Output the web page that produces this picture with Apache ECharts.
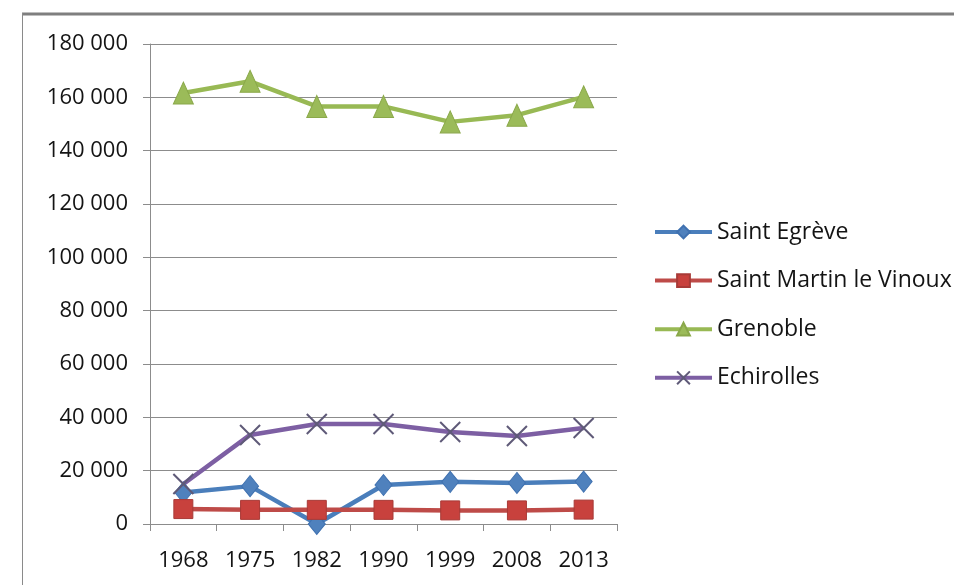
<!DOCTYPE html>
<html>
<head>
<meta charset="utf-8">
<script src="https://cdn.jsdelivr.net/npm/echarts@6/dist/echarts.min.js"></script>
<style>
  html, body { margin: 0; padding: 0; background: #fff; }
  #chart { width: 954px; height: 585px; }
</style>
</head>
<body>
<div id="chart"></div>
<script>
// Census years
const years = ['1968', '1975', '1982', '1990', '1999', '2008', '2013'];

// Population per commune
const saintEgreve = [11800, 14200, 0, 14600, 15800, 15400, 15900];
const saintMartin = [5600, 5300, 5300, 5300, 5100, 5100, 5400];
const grenoble = [161600, 166000, 156600, 156600, 150800, 153300, 160200];
const echirolles = [15000, 33400, 37500, 37500, 34500, 33000, 36000];

// Value axis ticks
const yMin = 0;
const yMax = 180000;
const yStep = 20000;

const FONT = '"Open Sans", "Liberation Sans", sans-serif';
const AXIS_GRAY = '#8c8c8c';
const TEXT = '#141414';

const chart = echarts.init(document.getElementById('chart'), null, { renderer: 'canvas' });

function fmt(v) {
  return String(v).replace(/\B(?=(\d{3})+(?!\d))/g, ' ');
}

const crossPath = 'path://M0,0L10,10M10,0L0,10';

chart.setOption({
  backgroundColor: '#ffffff',
  animation: false,
  textStyle: { fontFamily: FONT },
  graphic: [
    { type: 'line', shape: { x1: 22, y1: 14, x2: 954, y2: 14 }, style: { stroke: '#7f7f7f', lineWidth: 3 } },
    { type: 'line', shape: { x1: 22.5, y1: 13, x2: 22.5, y2: 585 }, style: { stroke: '#8a8a8a', lineWidth: 1 } }
  ],
  grid: { left: 150, right: 337, top: 44, bottom: 61, containLabel: false },
  legend: {
    orient: 'vertical',
    left: 648,
    top: 215,
    itemWidth: 57,
    itemHeight: 16,
    itemGap: 24.6,
    lineStyle: { width: 4 },
    textStyle: { fontFamily: FONT, fontSize: 23, color: TEXT, lineHeight: 24 },
    data: ['Saint Egrève', 'Saint Martin le Vinoux', 'Grenoble', 'Echirolles']
  },
  xAxis: {
    type: 'category',
    data: years,
    boundaryGap: true,
    axisLine: { lineStyle: { color: AXIS_GRAY, width: 1 } },
    axisTick: { show: true, length: 7, lineStyle: { color: AXIS_GRAY } },
    axisLabel: { fontFamily: FONT, fontSize: 22, color: TEXT, margin: 26 },
    splitLine: { show: false }
  },
  yAxis: {
    type: 'value',
    min: yMin,
    max: yMax,
    interval: yStep,
    axisLine: { show: true, lineStyle: { color: AXIS_GRAY, width: 1 } },
    axisTick: { show: true, length: 7, lineStyle: { color: AXIS_GRAY } },
    axisLabel: { fontFamily: FONT, fontSize: 22, color: TEXT, margin: 22, formatter: fmt },
    splitLine: { show: true, lineStyle: { color: AXIS_GRAY, width: 1 } }
  },
  series: [
    {
      name: 'Saint Egrève',
      type: 'line',
      data: saintEgreve,
      symbol: 'diamond',
      symbolSize: [17, 21],
      showAllSymbol: true,
      lineStyle: { color: '#4a7ebb', width: 4.5 },
      itemStyle: { color: '#4f81bd', borderColor: '#3f71b0', borderWidth: 1 }
    },
    {
      name: 'Saint Martin le Vinoux',
      type: 'line',
      data: saintMartin,
      symbol: 'rect',
      symbolSize: 19,
      showAllSymbol: true,
      lineStyle: { color: '#be4b48', width: 4.5 },
      itemStyle: { color: '#c8413d', borderColor: '#a83a37', borderWidth: 1 }
    },
    {
      name: 'Grenoble',
      type: 'line',
      data: grenoble,
      symbol: 'triangle',
      symbolSize: [20, 22],
      showAllSymbol: true,
      lineStyle: { color: '#98b954', width: 4.5 },
      itemStyle: { color: '#9bbb59', borderColor: '#8aa84a', borderWidth: 1 }
    },
    {
      name: 'Echirolles',
      type: 'line',
      data: echirolles,
      symbol: crossPath,
      symbolSize: 20,
      showAllSymbol: true,
      lineStyle: { color: '#7d5fa3', width: 4.5 },
      itemStyle: { color: 'rgba(0,0,0,0)', borderColor: '#5f5a78', borderWidth: 2 }
    }
  ]
});
</script>
</body>
</html>
